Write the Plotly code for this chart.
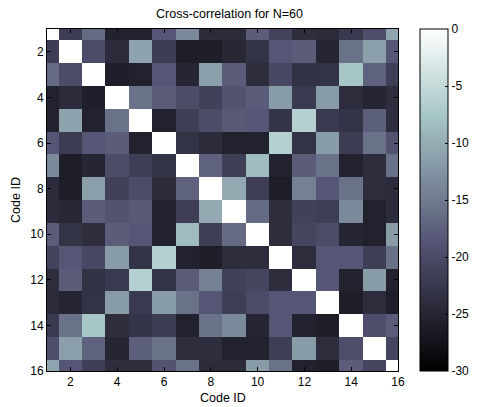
import numpy as np
import plotly.graph_objects as go

codes = list(range(1, 17))
tick_vals = [2, 4, 6, 8, 10, 12, 14, 16]
cbar_ticks = [0, -5, -10, -15, -20, -25, -30]

# Upper triangle (row i, columns i+1..16), cross-correlation in dB
upper = [
    [-21.8, -16.5, -25.5, -25.5, -18.6, -13.5, -24.3, -24.3, -18.0, -21.0, -24.0, -24.3, -22.3, -19.5, -10.8],
    [-19.8, -24.3, -11.0, -22.0, -26.0, -26.0, -24.8, -23.2, -18.6, -18.0, -25.0, -15.8, -11.4, -18.6],
    [-25.8, -25.5, -18.6, -25.0, -11.4, -18.0, -24.0, -20.3, -23.3, -23.2, -7.5, -17.4, -21.7],
    [-15.8, -18.0, -19.8, -21.3, -19.0, -18.0, -11.7, -22.3, -11.7, -24.0, -25.0, -24.0],
    [-25.5, -21.7, -19.8, -18.3, -18.6, -23.0, -6.3, -22.3, -23.0, -17.7, -24.0],
    [-23.2, -24.3, -25.5, -25.5, -6.3, -23.2, -11.7, -22.0, -15.8, -19.0],
    [-17.4, -21.7, -8.7, -25.5, -18.0, -15.8, -25.5, -24.0, -15.8],
    [-10.4, -21.7, -26.0, -14.4, -18.6, -15.8, -24.0, -24.3],
    [-16.5, -24.0, -21.3, -21.7, -13.5, -25.5, -24.3],
    [-24.0, -20.7, -20.0, -25.0, -25.5, -11.7],
    [-24.0, -18.6, -18.6, -21.7, -15.8],
    [-18.6, -25.5, -11.7, -25.5],
    [-26.0, -24.0, -26.0],
    [-19.5, -18.0],
    [-20.7],
]

n = len(codes)
z = np.zeros((n, n))
for i, row in enumerate(upper):
    for k, v in enumerate(row):
        j = i + 1 + k
        z[i, j] = v
        z[j, i] = v

bone = [
    [0.0, "rgb(0,0,0)"],
    [0.375, "rgb(84,84,116)"],
    [0.75, "rgb(167,199,199)"],
    [1.0, "rgb(255,255,255)"],
]

fam = "Liberation Sans, Arial, sans-serif"
font = dict(family=fam, size=12, color="black")
title_font = dict(family=fam, size=12.5, color="black")

plot_h = 371 - 28.7

fig = go.Figure(go.Heatmap(
    x=codes, y=codes, z=z, zmin=-30, zmax=0, colorscale=bone,
    colorbar=dict(
        x=(435 - 47.3) / 364.4, xanchor="left", xpad=0, ypad=0,
        y=0.5, yanchor="middle", len=1.0, lenmode="fraction",
        thickness=28, thicknessmode="pixels",
        outlinewidth=1, outlinecolor="black",
        tickvals=cbar_ticks, ticktext=[str(t) for t in cbar_ticks],
        ticks="inside", ticklen=3, tickcolor="black",
        tickfont=font,
    ),
    hoverongaps=False,
))

axis_common = dict(
    tickvals=tick_vals, ticks="inside", ticklen=4, tickcolor="black",
    showline=True, linecolor="black", linewidth=1, mirror="allticks",
    showgrid=False, zeroline=False, tickfont=font,
)

fig.update_layout(
    width=486, height=407,
    margin=dict(l=47.3, r=486 - 411.7, t=28.7, b=407 - 371),
    paper_bgcolor="white", plot_bgcolor="white",
    font=font,
    title=dict(text="Cross-correlation for N=60", x=229.5 / 486, xanchor="center",
               y=1 - 14 / 407, yanchor="middle", font=title_font),
    xaxis=dict(range=[1, 16], **axis_common),
    yaxis=dict(range=[16, 1], title=dict(text="Code ID", standoff=6, font=title_font), **axis_common),
    annotations=[dict(
        text="Code ID", xref="paper", yref="paper", x=0.5, y=-(398 - 371) / plot_h,
        xanchor="center", yanchor="middle", showarrow=False, font=title_font,
    )],
)

fig.write_html("out.html")
